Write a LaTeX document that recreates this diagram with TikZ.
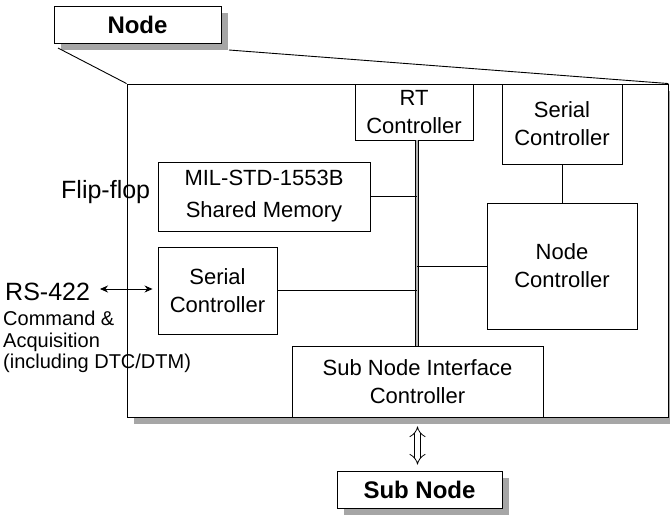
\documentclass[tikz,border=0pt]{standalone}
\usepackage{fontspec}
\setmainfont{Liberation Sans}
\usetikzlibrary{shadows,arrows.meta}

\tikzset{
  unit/.style={draw, line width=0.9pt, fill=white, align=center, inner sep=0pt,
    font=\fontsize{22}{28}\selectfont},
  shadowed/.style={draw, line width=0.9pt, fill=white, inner sep=0pt,
    drop shadow={shadow xshift=7pt, shadow yshift=-7pt, fill=gray!70, opacity=1}},
  title/.style={shadowed, font=\fontsize{24}{28}\selectfont\bfseries},
  wire/.style={line width=0.9pt},
  bus/.style={line width=0.9pt, double=gray!60, double distance=2pt},
  label/.style={inner sep=0pt, font=\fontsize{20}{21.5}\selectfont},
  biglabel/.style={inner sep=0pt, font=\fontsize{25}{28}\selectfont},
}

\begin{document}
\begin{tikzpicture}[x=1pt, y=-1pt]
\useasboundingbox (0,0) rectangle (670,520);

% enclosing node outline
\node[shadowed, minimum width=541pt, minimum height=333pt] (big) at (397.5,250.5) {};

% header box and the lines that open it out
\node[title, minimum width=167pt, minimum height=37pt] (node) at (137.5,24.5) {Node};
\coordinate (nodeL) at (58,48);
\coordinate (nodeR) at (229,50);
\draw[wire] (nodeL) -- (big.north west);
\draw[wire] (nodeR) -- (big.north east);

% functional units
\node[unit, minimum width=118pt, minimum height=56pt] (rt) at (414,112) {RT\\Controller};
\node[unit, minimum width=120pt, minimum height=80pt] (st) at (562,124) {Serial\\Controller};
\node[unit, minimum width=212pt, minimum height=69pt] (mil) at (264,196.5) {MIL-STD-1553B\\[4pt]Shared Memory};
\node[unit, minimum width=119pt, minimum height=87pt] (sl) at (217.5,290.5) {Serial\\Controller};
\node[unit, minimum width=150pt, minimum height=126pt] (nc) at (562,266) {Node\\Controller};
\node[unit, minimum width=251pt, minimum height=71pt] (snic) at (417.5,381.5) {Sub Node Interface\\Controller};

% internal bus
\coordinate (busT) at (417,140);
\coordinate (busB) at (417,346);
\draw[bus] (busT) -- (busB);
\draw[wire] (mil.east) -- (mil.east -| busT);
\draw[wire] (sl.east) -- (sl.east -| busT);
\draw[wire] (nc.west) -- (nc.west -| busT);
\draw[wire] (st.south) -- (nc.north);

% external labels
\node[biglabel, anchor=west] (ff) at (61,192) {Flip-flop};
\node[biglabel, anchor=west] (rs) at (5,292) {RS-422};
\node[label, anchor=north west, align=left] (cmd) at (3,311)
  {Command \&\\Acquisition\\(including DTC/DTM)};
\coordinate (rsA) at (100,289);
\draw[wire, {Stealth[length=8pt,width=7pt]}-{Stealth[length=8pt,width=7pt]}, shorten >=5pt]
  (rsA) -- (rsA -| sl.west);

% sub node link
\node[title, minimum width=165pt, minimum height=37pt] (sub) at (419.5,489.5) {Sub Node};
\draw[line width=0.8pt, double, double distance=5pt, {Implies}-{Implies}, shorten <=9pt, shorten >=6pt]
  (snic.south) -- (snic.south |- sub.north);
\end{tikzpicture}
\end{document}
